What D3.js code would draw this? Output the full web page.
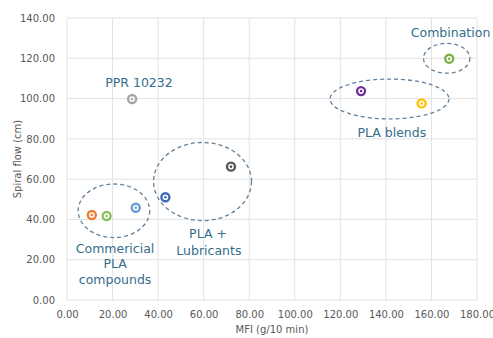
<!DOCTYPE html>
<html><head><meta charset="utf-8">
<script src="https://cdn.jsdelivr.net/npm/d3@7"></script>
<style>body{margin:0;background:#fff}svg{display:block}</style>
</head><body>
<script>
const names = ["PPR 10232","Commercial A","Commercial B","Commercial C","Lubricant A","Lubricant B","Blend A","Blend B","Combination"];
const mfi = [28.6, 10.9, 17.4, 30.2, 43.2, 72.0, 129.1, 155.7, 167.8];
const spiral = [99.8, 42.2, 41.7, 45.8, 51.0, 66.2, 103.7, 97.6, 119.8];
const colors = ["#a5a5a5","#ed7d31","#8cc063","#6a9fd3","#4068b8","#555555","#7030a0","#ffc000","#78b04a"];
const xTicks = [0,20,40,60,80,100,120,140,160,180];
const yTicks = [0,20,40,60,80,100,120,140];
const groups = [
  {cx:20.6, cy:44.3, rx:15.7, ry:13.3},
  {cx:59.5, cy:58.8, rx:21.5, ry:19.4},
  {cx:141.6, cy:99.8, rx:26.1, ry:9.9},
  {cx:166.7, cy:120.0, rx:10.2, ry:7.4}
];
const labels = [
  {t:"PPR 10232", x:31.6, y:108.2},
  {t:"Combination", x:168.4, y:133.0},
  {t:"PLA blends", x:142.6, y:83.0},
  {t:"PLA +", x:61.9, y:32.8},
  {t:"Lubricants", x:62.3, y:24.8},
  {t:"Commericial", x:21.1, y:25.8},
  {t:"PLA", x:21.1, y:17.9},
  {t:"compounds", x:21.1, y:10.4}
];

const W=493,H=338;
const svg=d3.select("body").append("svg").attr("width",W).attr("height",H);
const x=d3.scaleLinear().domain([0,180]).range([67,477]);
const y=d3.scaleLinear().domain([0,140]).range([300,18]);
const font="DejaVu Sans, Verdana, sans-serif";

// gridlines
svg.append("g").selectAll("line").data(xTicks).join("line")
  .attr("x1",d=>x(d)).attr("x2",d=>x(d)).attr("y1",y(0)).attr("y2",y(140))
  .attr("stroke","#e2e2e2").attr("stroke-width",1);
svg.append("g").selectAll("line").data(yTicks).join("line")
  .attr("x1",x(0)).attr("x2",x(180)).attr("y1",d=>y(d)).attr("y2",d=>y(d))
  .attr("stroke","#e2e2e2").attr("stroke-width",1);

// axes
const xAxis=svg.append("g").attr("transform",`translate(0,${y(0)})`)
  .call(d3.axisBottom(x).tickValues(xTicks).tickFormat(d3.format(".2f")).tickSize(0).tickPadding(11));
const yAxis=svg.append("g").attr("transform",`translate(${x(0)},0)`)
  .call(d3.axisLeft(y).tickValues(yTicks).tickFormat(d3.format(".2f")).tickSize(0).tickPadding(12));
[xAxis,yAxis].forEach(a=>{
  a.select(".domain").remove();
  a.selectAll("text").attr("fill","#595959").style("font-family",font).style("font-size","10px");
});

// axis titles
svg.append("text").attr("x",(x(0)+x(180))/2).attr("y",333).attr("text-anchor","middle")
  .style("font-family",font).style("font-size","10px").attr("fill","#595959").text("MFI (g/10 min)");
svg.append("text").attr("transform",`translate(21,${(y(0)+y(140))/2}) rotate(-90)`).attr("text-anchor","middle")
  .style("font-family",font).style("font-size","10px").attr("fill","#595959").text("Spiral flow (cm)");

// group ellipses
svg.append("g").selectAll("ellipse").data(groups).join("ellipse")
  .attr("cx",d=>x(d.cx)).attr("cy",d=>y(d.cy))
  .attr("rx",d=>x(d.rx)-x(0)).attr("ry",d=>y(0)-y(d.ry))
  .attr("fill","none").attr("stroke","#62809c").attr("stroke-width",1.3).attr("stroke-dasharray","4,3");

// points
const pts=svg.append("g").selectAll("g").data(mfi.map((v,i)=>({x:v,y:spiral[i],c:colors[i]}))).join("g")
  .attr("transform",d=>`translate(${x(d.x)},${y(d.y)})`);
pts.append("circle").attr("r",4).attr("fill","#fff").attr("stroke",d=>d.c).attr("stroke-width",2.4);
pts.append("circle").attr("r",1.3).attr("fill",d=>d.c);

// labels
svg.append("g").selectAll("text").data(labels).join("text")
  .attr("x",d=>x(d.x)).attr("y",d=>y(d.y)).attr("text-anchor","middle").attr("dominant-baseline","central")
  .style("font-family",font).style("font-size","12.5px").attr("fill","#336d8c").text(d=>d.t);
</script>
</body></html>
